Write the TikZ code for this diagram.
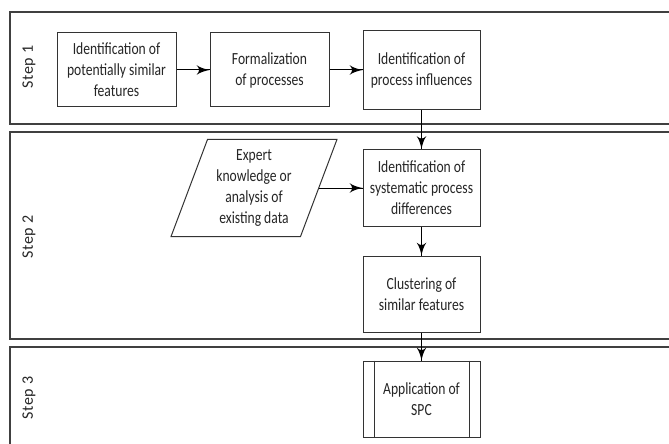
\documentclass[tikz,border=0pt]{standalone}
\usepackage{fontspec}
\usepackage{tikz}
\setmainfont{Carlito}[FakeStretch=0.8]
\newfontfamily\stepfont{Carlito}[LetterSpace=4]
\usetikzlibrary{arrows}
\usetikzlibrary{decorations.markings}
\usetikzlibrary{shapes.geometric}
\tikzset{flow/.style = {decoration={markings,
                                    mark=at position 1 with {\arrow[scale=1.5]{latex'}}},
                        postaction={decorate}}}
\tikzset{lane/.style = {draw=black!75, line width=0.6pt}}
\tikzset{box/.style = {draw=black!80, line width=0.5pt, align=center, inner sep=0,
                       font=\fontsize{8.5}{10.5}\selectfont, text=black!85}}
\tikzset{steplbl/.style = {rotate=90, font=\stepfont\fontsize{8}{9}\selectfont, text=black!85}}

\begin{document}
\begin{tikzpicture}[x=0.5pt, y=-0.5pt, line width=0.5pt]
    \clip (0, 0) rectangle (669, 444);
    \fill [white] (0, 0) rectangle (669, 444);

    \draw [lane] (10, 12) rectangle (680, 124);
    \draw [lane] (10, 132) rectangle (680, 339);
    \draw [lane] (10, 347) rectangle (680, 460);

    \node [steplbl] (lbl1) at (29, 67) {Step 1};
    \node [steplbl] (lbl2) at (29, 237) {Step 2};
    \node [steplbl] (lbl3) at (29, 398) {Step 3};

    \node [box, minimum width=59.5pt, minimum height=37pt] (ident) at (116.5, 70)
        {Identification of\\potentially similar\\features};
    \node [box, minimum width=59.5pt, minimum height=37pt] (formal) at (269.5, 70)
        {Formalization\\of processes};
    \node [box, minimum width=58.5pt, minimum height=39.5pt] (influ) at (421.5, 70)
        {Identification of\\process influences};
    \node [box, minimum width=58.5pt, minimum height=38.5pt] (syst) at (421.5, 188)
        {Identification of\\systematic process\\differences};
    \node [box, minimum width=58.5pt, minimum height=38pt] (clust) at (421.5, 294)
        {Clustering of\\similar features};
    \node [box, minimum width=58.5pt, minimum height=38pt] (spc) at (421.5, 399)
        {Application of\\SPC};
    \draw [black!80] ([xshift=6pt]spc.north west) -- ([xshift=6pt]spc.south west);
    \draw [black!80] ([xshift=-5.5pt]spc.north east) -- ([xshift=-5.5pt]spc.south east);

    \node [box, trapezium, trapezium left angle=69, trapezium right angle=111,
           trapezium stretches=true, minimum width=83pt, minimum height=48.5pt] (expert) at (254, 188)
        {Expert\\knowledge or\\analysis of\\existing data};

    \draw [flow] (ident.east) -- (formal.west);
    \draw [flow] (formal.east) -- (influ.west |- formal.east);
    \draw [flow] (influ.south) -- (syst.north);
    \draw [flow] (expert.east) -- (syst.west |- expert.east);
    \draw [flow] (syst.south) -- (clust.north);
    \draw [flow] (clust.south) -- (spc.north);

  \end{tikzpicture}
\end{document}
